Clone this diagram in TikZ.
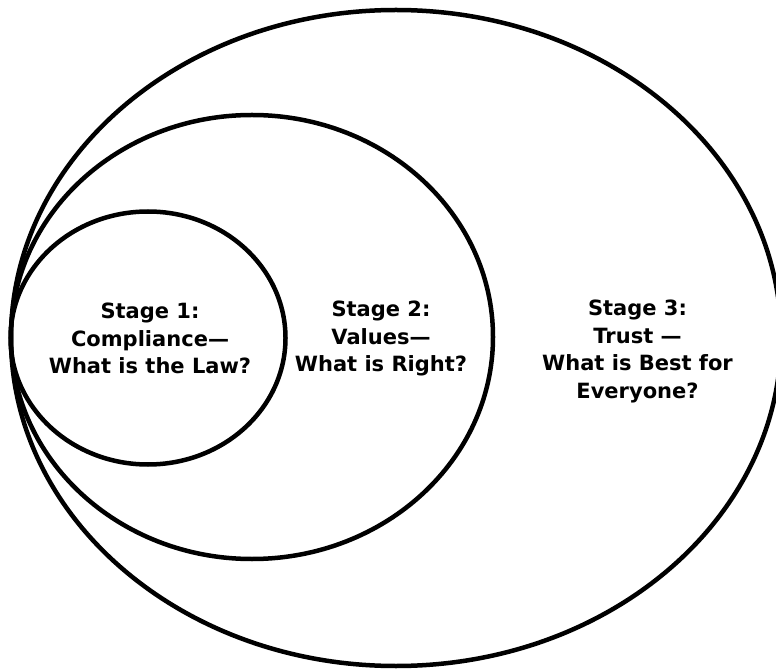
\documentclass[tikz,border=0pt]{standalone}
\usepackage{fontspec}
\setmainfont{DejaVu Sans}
\begin{document}
\begin{tikzpicture}[x=1pt,y=1pt,
  ring/.style={draw=black,line width=4.5pt},
  label/.style={align=center,font=\fontsize{21}{27.5}\selectfont\bfseries,inner sep=0pt}]
\useasboundingbox[fill=white] (0,0) rectangle (776,670);
\draw[ring] (396,332) ellipse [x radius=385, y radius=328];
\draw[ring] (252,333) ellipse [x radius=241, y radius=222];
\draw[ring] (148,332) ellipse [x radius=137.5, y radius=126.5];
\node[label] (s1) at (150,331.5) {Stage 1:\\Compliance—\\What is the Law?};
\node[label] (s2) at (381,331.5) {Stage 2:\\Values—\\What is Right?};
\node[label] (s3) at (637.5,318.5) {Stage 3:\\Trust —\\What is Best for\\Everyone?};
\end{tikzpicture}
\end{document}
